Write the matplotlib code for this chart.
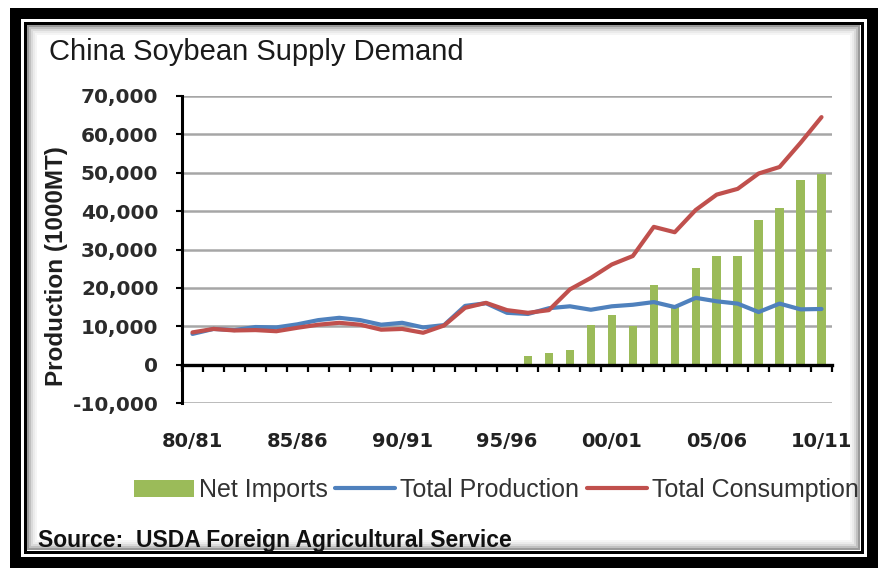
import numpy as np
import matplotlib.pyplot as plt
from matplotlib.patches import Rectangle

# marketing years 80/81 .. 10/11
seasons = [f"{y % 100:02d}/{(y + 1) % 100:02d}" for y in range(1980, 2011)]

# 1000 MT
production = [8000, 9300, 9000, 9800, 9700, 10500, 11600, 12200, 11600, 10400,
              10900, 9700, 10300, 15300, 16000, 13500, 13200, 14700, 15200, 14300,
              15200, 15600, 16300, 15000, 17400, 16500, 15900, 13700, 15900, 14400,
              14500]
consumption = [8400, 9300, 8900, 9000, 8700, 9600, 10400, 10900, 10400, 9100,
               9300, 8300, 10200, 14800, 16100, 14200, 13500, 14200, 19600, 22600,
               26100, 28300, 35900, 34500, 40300, 44300, 45800, 49800, 51500, 57800,
               64500]
import_seasons = seasons[16:]
net_imports = [2300, 2900, 3800, 10300, 12900, 10000, 20800, 15500, 25200, 28300,
               28300, 37700, 40900, 48000, 49800]

ytick_values = list(range(-10000, 70001, 10000))
ytick_labels = [f"{v:,}" for v in ytick_values]
label_seasons = ["80/81", "85/86", "90/91", "95/96", "00/01", "05/06", "10/11"]

W, H = 880, 572
arial = ['Liberation Sans', 'DejaVu Sans']

fig = plt.figure(figsize=(W / 100, H / 100), dpi=100)
fig.patch.set_facecolor('white')


def frame_rect(x0, y0, x1, y1, lw_px, color):
    fig.patches.append(Rectangle((x0 / W, 1 - y1 / H), (x1 - x0) / W, (y1 - y0) / H,
                                 transform=fig.transFigure, fill=False,
                                 lw=lw_px * 0.72, edgecolor=color,
                                 joinstyle='miter'))


# double black border with a soft inner shadow
frame_rect(14.5, 12.5, 871.5, 561.5, 11, 'black')
frame_rect(24.5, 22.5, 862, 552, 3, 'black')
for i, c in enumerate(['#9a9a9a', '#c0c0c0', '#dadada', '#ebebeb', '#f5f5f5']):
    d = 27.5 + 2 * i
    frame_rect(d, d - 2, 859 - 2 * i, 549 - 2 * i, 2, c)

ax = fig.add_axes([182 / W, 1 - 403 / H, 650 / W, 307 / H])
ax.set_facecolor('none')

x = np.arange(len(seasons))
xi = np.array([seasons.index(s) for s in import_seasons])
bars = ax.bar(xi, net_imports, width=0.4, color='#9bbb59', zorder=2)
prod_line, = ax.plot(x, production, color='#4f81bd', lw=3, solid_joinstyle='round',
                     solid_capstyle='round', zorder=3)
cons_line, = ax.plot(x, consumption, color='#c0504d', lw=3, solid_joinstyle='round',
                     solid_capstyle='round', zorder=4)

ax.set_xlim(-0.5, len(seasons) - 0.5)
ax.set_ylim(-10000, 70000)
ax.set_yticks(ytick_values, ytick_labels)
for t in ax.get_yticklabels():
    t.set_fontweight('bold')
    t.set_color('#2b2b2b')
ax.tick_params(axis='y', direction='out', length=4, width=1.5, pad=13, labelsize=14.5)
ax.yaxis.grid(True, color='#a6a6a6', lw=1.8)
ax.set_axisbelow(True)

for s in ['top', 'right']:
    ax.spines[s].set_visible(False)
ax.spines['left'].set_linewidth(2.2)
ax.spines['bottom'].set_position(('data', 0))
ax.spines['bottom'].set_linewidth(2.4)
ax.spines['bottom'].set_zorder(5)
ax.set_xticks(np.arange(len(seasons) + 1) - 0.5, labels=[])
ax.tick_params(axis='x', direction='out', length=5, width=1.6)

# season labels sit below the plot area
sec = ax.secondary_xaxis('bottom')
sec.set_xticks([seasons.index(s) for s in label_seasons], label_seasons)
sec.tick_params(length=0, pad=21, labelsize=14, labelcolor='#222222')
for t in sec.get_xticklabels():
    t.set_fontweight('bold')
sec.spines['bottom'].set_visible(False)

fig.text(57 / W, 1 - 266 / H, 'Production (1000MT)', rotation=90, ha='center',
         va='center', fontsize=17.5, fontweight='bold', family=arial, color='#1e1e1e')
fig.text(49 / W, 1 - 52 / H, 'China Soybean Supply Demand', ha='left', va='center',
         fontsize=21, family=arial, color='#1a1a1a')
fig.text(38 / W, 1 - 540 / H, 'Source:  USDA Foreign Agricultural Service', ha='left',
         va='center', fontsize=16.5, fontweight='bold', family=arial, color='#111111')

fig.legend([bars, prod_line, cons_line],
           ['Net Imports', 'Total Production', 'Total Consumption'],
           loc='center', bbox_to_anchor=(496 / W, 1 - 490 / H),
           ncol=3, frameon=False, prop={'family': arial, 'size': 18},
           labelcolor='#333333', handlelength=2.4, handletextpad=0.2,
           columnspacing=0.3, borderpad=0)

fig.savefig('out.png', dpi=100)
